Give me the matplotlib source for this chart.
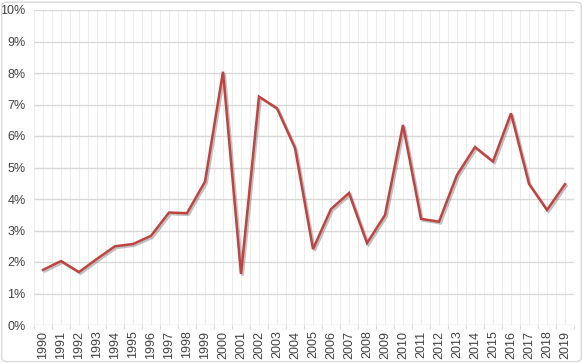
import numpy as np
import matplotlib.pyplot as plt
import matplotlib.patheffects as pe
from matplotlib.patches import FancyBboxPatch
from matplotlib.ticker import PercentFormatter, MultipleLocator

years = list(range(1990, 2020))
rates = [1.75, 2.03, 1.68, 2.10, 2.50, 2.57, 2.83, 3.57, 3.55, 4.55,
         8.04, 1.62, 7.25, 6.88, 5.62, 2.41, 3.68, 4.19, 2.60, 3.49,
         6.35, 3.37, 3.28, 4.76, 5.65, 5.19, 6.72, 4.48, 3.65, 4.47]

plt.rcParams['font.family'] = ['Liberation Sans', 'DejaVu Sans']

fig = plt.figure(figsize=(5.83, 3.63), dpi=100)
ax = fig.add_axes([34 / 583, 38 / 363, 540 / 583, 315 / 363])

x = np.arange(len(years))
ax.plot(x, rates, color='#BF4340', lw=1.8, solid_joinstyle='miter',
        path_effects=[pe.SimpleLineShadow(offset=(1.2, -1.2), shadow_color='#777777', alpha=0.45),
                      pe.Normal()], zorder=3)

ax.set_xlim(-0.5, len(years) - 0.5)
ax.set_ylim(0, 10)
ax.yaxis.set_major_locator(MultipleLocator(1))
ax.yaxis.set_major_formatter(PercentFormatter(decimals=0))
ax.set_xticks(x)
ax.set_xticklabels([str(y) for y in years], rotation=90)
ax.set_xticks(np.arange(-0.5, len(years)), minor=True)

ax.grid(axis='y', which='major', color='#D9D9D9', lw=1)
ax.grid(axis='x', which='both', color='#EDEDED', lw=0.8)
ax.set_axisbelow(True)
ax.tick_params(axis='y', which='major', length=0, labelsize=9, colors='#404040', pad=6)
ax.tick_params(axis='x', which='major', length=0, labelsize=9, colors='#404040', pad=4)
ax.tick_params(axis='x', which='minor', length=3, color='#D9D9D9', width=0.8)
for s in ax.spines.values():
    s.set_visible(False)

border = FancyBboxPatch((0.003, 0.004), 0.994, 0.99, boxstyle='round,pad=0,rounding_size=0.01',
                        transform=fig.transFigure, fill=False, ec='#D9D9D9', lw=1)
fig.patches.append(border)

fig.savefig('out.png', dpi=100)
